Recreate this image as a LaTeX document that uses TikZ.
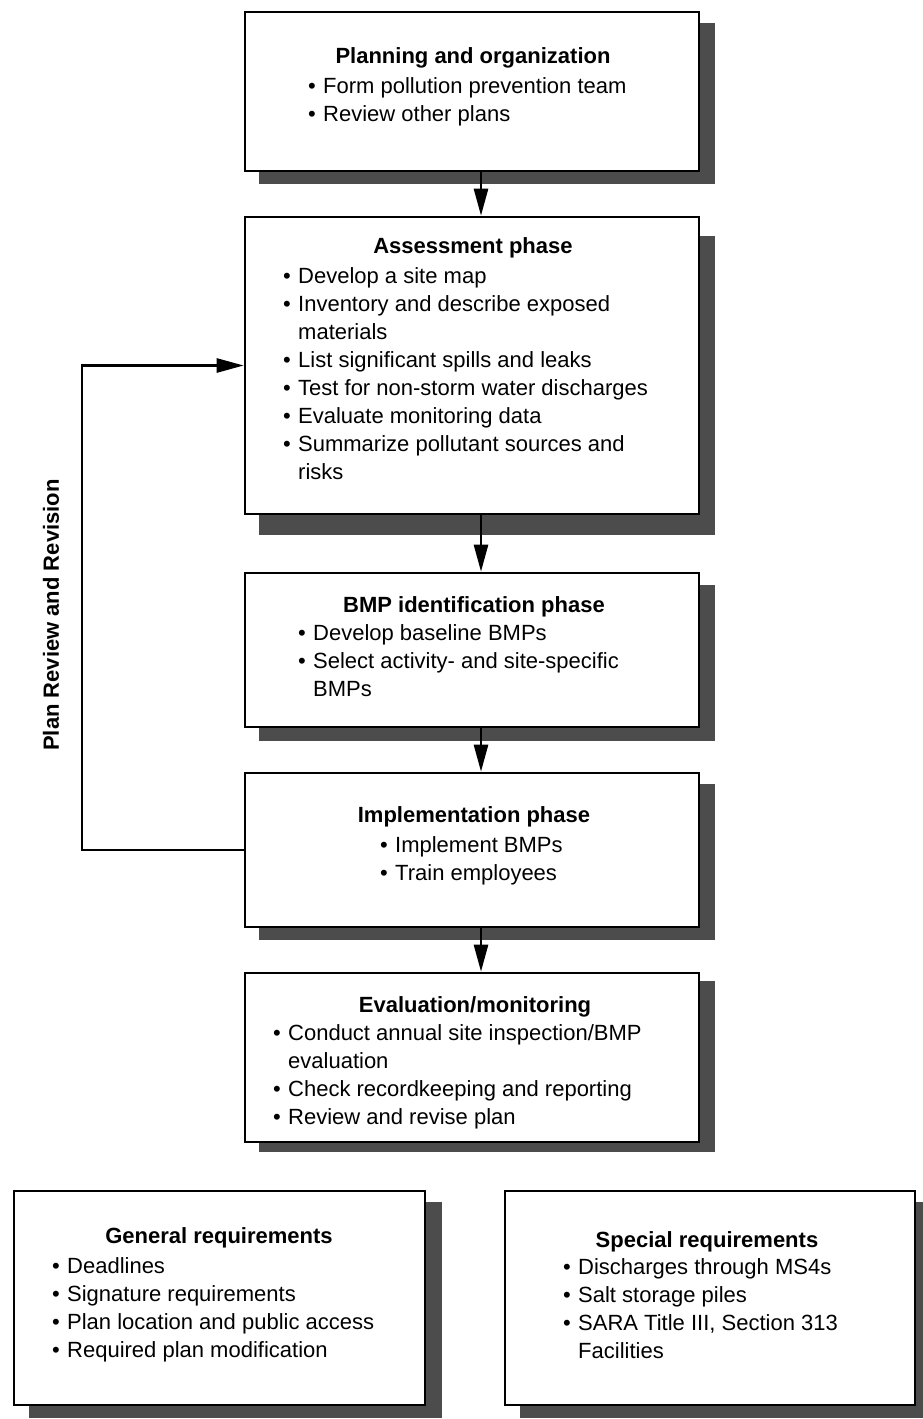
\documentclass[tikz,border=0pt]{standalone}
\usepackage{fontspec}
\setmainfont{Liberation Sans}
\usetikzlibrary{arrows.meta,calc,backgrounds}

% bullet items with a hanging indent
\newcommand{\bl}[1]{\makebox[15pt][l]{\textbullet}#1}
\newcommand{\cn}[1]{\hspace*{15pt}#1}
% fixed height for the first line of every list
\newcommand{\fl}{\rule{0pt}{20pt}}

% a framed panel given by its left, top, right and bottom edges
\newcommand{\panel}[5]{%
  \node[panel, minimum width={(#4-#2)*1pt}, minimum height={(#5-#3)*1pt}]
    (#1) at ({(#2+#4)/2},{(#3+#5)/2}) {};}
% the dark drop shadow behind a panel
\newcommand{\panelshadow}[3]{%
  \fill[shadowfill] ($(#1.north west)+(#2,#3)$) rectangle ($(#1.south east)+(#2,#3)$);}

\tikzset{
  panel/.style={draw=black, line width=2.6pt, fill=white, inner sep=0pt},
  shadowfill/.style={fill=black!70},
  ttl/.style={anchor=base, inner sep=0pt, font=\fontsize{22}{28}\selectfont\bfseries},
  lst/.style={anchor=north west, inner sep=0pt, align=left,
              font=\fontsize{22}{28}\selectfont},
  flow/.style={line width=2.6pt, -{Triangle[length=27pt,width=14pt]}},
  sidelabel/.style={inner sep=0pt, font=\fontsize{22}{28}\selectfont\bfseries}
}

\begin{document}
\begin{tikzpicture}[x=1pt, y=-1pt]
\useasboundingbox (0,0) rectangle (923,1419);

% panels of the main sequence and the two requirement panels
\panel{plan}{245}{12}{699}{171}
\panel{assess}{245}{217}{699}{514}
\panel{bmp}{245}{573}{699}{727}
\panel{impl}{245}{773}{699}{927}
\panel{eval}{245}{973}{699}{1142}
\panel{general}{14}{1191}{425}{1405}
\panel{special}{505}{1191}{915}{1405}

\begin{scope}[on background layer]
  \panelshadow{plan}{15}{12}
  \panelshadow{assess}{15}{20}
  \panelshadow{bmp}{15}{13}
  \panelshadow{impl}{15}{12}
  \panelshadow{eval}{15}{9}
  \panelshadow{general}{16}{12}
  \panelshadow{special}{16}{12}
\end{scope}

% Planning and organization
\node[ttl] (planT) at (473,63) {Planning and organization};
\node[lst] (planL) at (308,73) {\fl\bl{Form pollution prevention team}\\
  \bl{Review other plans}};

% Assessment phase
\node[ttl] (assessT) at (473,253) {Assessment phase};
\node[lst] (assessL) at (283,263) {\fl\bl{Develop a site map}\\
  \bl{Inventory and describe exposed}\\
  \cn{materials}\\
  \bl{List significant spills and leaks}\\
  \bl{Test for non-storm water discharges}\\
  \bl{Evaluate monitoring data}\\
  \bl{Summarize pollutant sources and}\\
  \cn{risks}};

% BMP identification phase
\node[ttl] (bmpT) at (474,612) {BMP identification phase};
\node[lst] (bmpL) at (298,620) {\fl\bl{Develop baseline BMPs}\\
  \bl{Select activity- and site-specific}\\
  \cn{BMPs}};

% Implementation phase
\node[ttl] (implT) at (474,822) {Implementation phase};
\node[lst] (implL) at (380,832) {\fl\bl{Implement BMPs}\\
  \bl{Train employees}};

% Evaluation/monitoring
\node[ttl] (evalT) at (475,1012) {Evaluation/monitoring};
\node[lst] (evalL) at (273,1020) {\fl\bl{Conduct annual site inspection/BMP}\\
  \cn{evaluation}\\
  \bl{Check recordkeeping and reporting}\\
  \bl{Review and revise plan}};

% General requirements
\node[ttl] (generalT) at (219,1243) {General requirements};
\node[lst] (generalL) at (52,1253) {\fl\bl{Deadlines}\\
  \bl{Signature requirements}\\
  \bl{Plan location and public access}\\
  \bl{Required plan modification}};

% Special requirements
\node[ttl] (specialT) at (707,1247) {Special requirements};
\node[lst] (specialL) at (563,1254) {\fl\bl{Discharges through MS4s}\\
  \bl{Salt storage piles}\\
  \bl{SARA Title III, Section 313}\\
  \cn{Facilities}};

% downward flow between the phases
\draw[flow] ([xshift=9pt]plan.south) -- ([xshift=9pt]assess.north);
\draw[flow] ([xshift=9pt]assess.south) -- ([xshift=9pt]bmp.north);
\draw[flow] ([xshift=9pt]bmp.south) -- ([xshift=9pt]impl.north);
\draw[flow] ([xshift=9pt]impl.south) -- ([xshift=9pt]eval.north);

% review loop back to the assessment phase
\coordinate (loop) at (82,600);
\draw[flow] (impl.west) -- (impl.west -| loop) -- (assess.west -| loop) -- (assess.west);
\node[sidelabel, rotate=90] (review) at (51,615) {Plan Review and Revision};
\end{tikzpicture}
\end{document}
